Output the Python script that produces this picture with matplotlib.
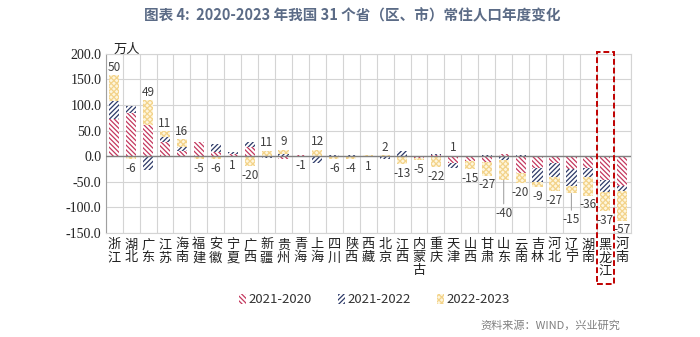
import numpy as np
import matplotlib.pyplot as plt
import matplotlib.transforms as mtransforms
from matplotlib.patches import Rectangle

plt.rcParams['font.family'] = ['Noto Sans CJK SC', 'DejaVu Sans']
plt.rcParams['hatch.linewidth'] = 0.9

provinces = ['浙江', '湖北', '广东', '江苏', '海南', '福建', '安徽', '宁夏', '广西', '新疆',
             '贵州', '青海', '上海', '四川', '陕西', '西藏', '北京', '江西', '内蒙古', '重庆',
             '天津', '山西', '甘肃', '山东', '云南', '吉林', '河北', '辽宁', '湖南', '黑龙江', '河南']
d2021_2020 = [72, 85, 60, 28, 11, 27, 9, 5, 18, -1, -6, 2, 1, 1, -1, 1, 0, -2, -3, 3,
              -14, -10, -11, 5, -32, -24, -13, -26, -23, -46, -58]
d2021_2022 = [36, 14, -27, 10, 6, 1, 14, 3, 10, -2, 4, 1, -14, 2, 2, -2, -5, 11, 1, 1,
              -10, 1, 2, -7, 3, -27, -28, -32, -18, -24, -11]
d2022_2023 = [50, -6, 49, 11, 16, -5, -6, 1, -20, 11, 9, -1, 12, -6, -4, 1, 2, -13, -5, -22,
              1, -15, -27, -40, -20, -9, -27, -15, -36, -37, -57]
series_names = ['2021-2020', '2021-2022', '2022-2023']
yticks = [-150, -100, -50, 0, 50, 100, 150, 200]
highlight = '黑龙江'
leader = {'山东': -19, '辽宁': -14}
label_below = ['宁夏', '西藏']

RED = '#c4385e'
NAVY = '#2d3a68'
YEL_EDGE = '#f3d38a'
YEL_FACE = '#fef6de'
styles = [dict(facecolor='white', edgecolor=RED, hatch='\\' * 7),
          dict(facecolor='white', edgecolor=NAVY, hatch='/' * 7),
          dict(facecolor=YEL_FACE, edgecolor=YEL_EDGE, hatch='x' * 6)]

fig = plt.figure(figsize=(7, 3.37), dpi=100)
ax = fig.add_axes([0.151, 0.309, 0.75, 0.531])
x = np.arange(len(provinces))

# excel style stacking: positives up, negatives down
pos = np.zeros(len(x))
neg = np.zeros(len(x))
for vals, name, st in zip([d2021_2020, d2021_2022, d2022_2023], series_names, styles):
    v = np.array(vals, dtype=float)
    bottom = np.where(v >= 0, pos, neg)
    ax.bar(x, v, 0.6, bottom=bottom, linewidth=0, label=name, zorder=3, **st)
    pos = pos + np.clip(v, 0, None)
    neg = neg + np.clip(v, None, 0)

for i, v in enumerate(d2022_2023):
    kw = dict(textcoords='offset points', ha='center', fontsize=8.5, color='#404040', zorder=5)
    if v >= 0 and provinces[i] not in label_below:
        ax.annotate(f'{v}', (x[i], pos[i]), xytext=(0, 1), va='bottom', **kw)
    elif provinces[i] in leader:
        ax.annotate(f'{v}', (x[i], neg[i]), xytext=(0, leader[provinces[i]]), va='top',
                    arrowprops=dict(arrowstyle='-', color='#a6a6a6', lw=0.8, shrinkA=0, shrinkB=0), **kw)
    else:
        ax.annotate(f'{v}', (x[i], neg[i]), xytext=(0, -2), va='top', **kw)

ax.axhline(0, color='#808080', lw=1.0, zorder=4)
ax.set_xlim(-0.5, len(x) - 0.5)
ax.set_ylim(-150, 200)
ax.set_yticks(yticks)
ax.set_yticklabels([f'{t:.1f}' for t in yticks], fontfamily='Liberation Serif', fontsize=10, color='#222222')
ax.set_xticks(x)
ax.set_xticklabels(['\n'.join(p) for p in provinces], fontsize=9.5, linespacing=1.0, color='#222222')
ax.set_xticks(np.arange(-0.5, len(x)), minor=True)
ax.tick_params(axis='both', which='both', length=0)
ax.tick_params(axis='x', pad=4)
ax.tick_params(axis='y', pad=3)
ax.set_axisbelow(True)
ax.grid(axis='y', which='major', color='#d4d4d4', lw=0.8)
ax.grid(axis='x', which='minor', color='#d4d4d4', lw=0.8)
for s in ax.spines.values():
    s.set_color('#d4d4d4')
ax.spines['left'].set_color('#a0a0a0')

ax.text(0.041, 1.025, '万人', transform=ax.transAxes, ha='center', va='center', fontsize=9.5, color='#222222')

# red dashed frame round Heilongjiang
k = provinces.index(highlight)
trans = mtransforms.blended_transform_factory(ax.transData, ax.transAxes)
ax.add_patch(Rectangle((k - 0.5, -0.285), 1, 1.295, transform=trans, fill=False,
                       edgecolor='#c00000', ls=(0, (3, 1.5)), lw=1.4, clip_on=False, zorder=6))

fig.legend(loc='center', bbox_to_anchor=(0.535, 0.11), ncol=3, frameon=False, fontsize=9.5,
           handlelength=0.5, handleheight=0.8, handletextpad=0.2, columnspacing=2.0,
           labelcolor='#333333')

fig.text(0.503, 0.955, '图表 4:  2020-2023 年我国 31 个省（区、市）常住人口年度变化',
         ha='center', va='center', fontsize=10.5, fontweight='bold', color='#5b6b86')
fig.text(0.886, 0.033, '资料来源：WIND，兴业研究', ha='right', va='center', fontsize=8, color='#808080')

fig.savefig('out.png', dpi=100)
